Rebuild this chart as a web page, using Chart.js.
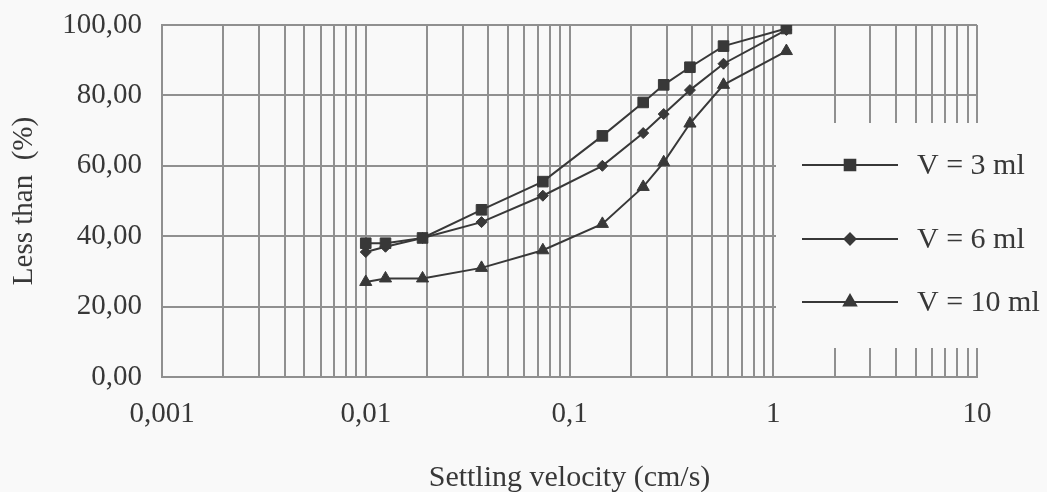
<!DOCTYPE html>
<html>
<head>
<meta charset="utf-8">
<script src="https://cdn.jsdelivr.net/npm/chart.js@4.4.1/dist/chart.umd.min.js"></script>
<style>
  html, body { margin: 0; padding: 0; background: #f9f9f9; }
  #wrap { width: 1047px; height: 492px; }
</style>
</head>
<body>
<div id="wrap"><canvas id="c" width="1047" height="492"></canvas></div>
<script>
// ---- data ----
const velocity = [0.01, 0.0125, 0.019, 0.037, 0.074, 0.145, 0.23, 0.29, 0.39, 0.57, 1.16];
const lessThanV3 = [38, 38, 39.5, 47.5, 55.5, 68.5, 78, 83, 88, 94, 99];
const lessThanV6 = [35.5, 37, 39.5, 44, 51.5, 60, 69.3, 74.7, 81.5, 89, 98.6];
const lessThanV10 = [27, 28, 28, 31, 36, 43.5, 54, 61, 72, 83, 92.6];
const seriesNames = ['V = 3 ml', 'V = 6 ml', 'V = 10 ml'];
const xMajorTicks = [0.001, 0.01, 0.1, 1, 10];
const xTickLabels = ['0,001', '0,01', '0,1', '1', '10'];
const yTickValues = [0, 20, 40, 60, 80, 100];
const yTickLabels = ['0,00', '20,00', '40,00', '60,00', '80,00', '100,00'];

const INK = '#383838';
const GRID = '#909090';
const BG = '#f9f9f9';
const FONT = '"Liberation Serif", "Times New Roman", serif';

function pairs(ys) { return velocity.map((x, i) => ({ x: x, y: ys[i] })); }

// all log grid positions (1..9 x each decade)
function logGrid() {
  const out = [];
  for (let d = 0; d < xMajorTicks.length; d++) {
    const base = xMajorTicks[d];
    out.push(base);
    if (d < xMajorTicks.length - 1) {
      for (let m = 2; m <= 9; m++) out.push(base * m);
    }
  }
  return out;
}

const styles = [
  { pointStyle: 'rect', pointRadius: 7.5 },
  { pointStyle: 'rectRot', pointRadius: 5.5 },
  { pointStyle: 'triangle', pointRadius: 7 }
];
const seriesData = [lessThanV3, lessThanV6, lessThanV10];

const datasets = seriesData.map((ys, i) => ({
  label: seriesNames[i],
  data: pairs(ys),
  showLine: true,
  borderColor: INK,
  backgroundColor: INK,
  borderWidth: 2,
  pointStyle: styles[i].pointStyle,
  pointRadius: styles[i].pointRadius,
  pointBorderWidth: 1,
  pointBackgroundColor: INK,
  pointBorderColor: INK,
  tension: 0
}));

const bgPlugin = {
  id: 'bg',
  beforeDraw(chart) {
    const ctx = chart.ctx;
    ctx.save();
    ctx.fillStyle = BG;
    ctx.fillRect(0, 0, chart.width, chart.height);
    ctx.restore();
  }
};

const legendBox = { left: 776, top: 123, right: 1047, bottom: 348 };
const legendRows = [165, 239, 302];
const legendPlugin = {
  id: 'boxLegend',
  afterDraw(chart) {
    const ctx = chart.ctx;
    ctx.save();
    ctx.fillStyle = BG;
    ctx.fillRect(legendBox.left, legendBox.top, legendBox.right - legendBox.left, legendBox.bottom - legendBox.top);
    chart.data.datasets.forEach((ds, i) => {
      const y = legendRows[i];
      ctx.strokeStyle = INK;
      ctx.lineWidth = 2;
      ctx.beginPath();
      ctx.moveTo(802, y);
      ctx.lineTo(898, y);
      ctx.stroke();
      ctx.fillStyle = INK;
      Chart.helpers.drawPoint(ctx, { pointStyle: ds.pointStyle, radius: ds.pointRadius, borderWidth: 1 }, 850, y);
      ctx.fill();
      ctx.fillStyle = INK;
      ctx.font = '30px ' + FONT;
      ctx.textAlign = 'left';
      ctx.textBaseline = 'middle';
      ctx.fillText(ds.label, 917, y + 1);
    });
    ctx.restore();
  }
};

new Chart(document.getElementById('c'), {
  type: 'scatter',
  data: { datasets: datasets },
  plugins: [bgPlugin, legendPlugin],
  options: {
    responsive: false,
    animation: false,
    devicePixelRatio: 1,
    layout: { padding: { left: 0, right: 70, top: 25, bottom: 0 } },
    plugins: { legend: { display: false }, tooltip: { enabled: false } },
    scales: {
      x: {
        type: 'logarithmic',
        min: xMajorTicks[0],
        max: xMajorTicks[xMajorTicks.length - 1],
        afterBuildTicks(scale) {
          scale.ticks = logGrid().map(v => ({ value: v, major: xMajorTicks.indexOf(v) >= 0 }));
        },
        afterFit(scale) { scale.height = 115; scale.paddingLeft = 0; scale.paddingRight = 0; },
        grid: { color: GRID, lineWidth: 2, drawTicks: false },
        border: { color: GRID, width: 2 },
        ticks: {
          autoSkip: false,
          maxRotation: 0,
          padding: 20,
          color: INK,
          font: { family: FONT, size: 29 },
          callback(value) {
            const k = xMajorTicks.indexOf(value);
            return k >= 0 ? xTickLabels[k] : '';
          }
        },
        title: {
          display: true,
          text: 'Settling velocity (cm/s)',
          color: INK,
          font: { family: FONT, size: 30, lineHeight: 0.93 },
          padding: { top: 0, bottom: 0 }
        }
      },
      y: {
        min: 0,
        max: 100,
        afterBuildTicks(scale) {
          scale.ticks = yTickValues.map(v => ({ value: v }));
        },
        afterFit(scale) { scale.width = 162; scale.paddingTop = 0; scale.paddingBottom = 0; },
        grid: { color: GRID, lineWidth: 2, drawTicks: false },
        border: { color: GRID, width: 2 },
        ticks: {
          padding: 20,
          color: INK,
          font: { family: FONT, size: 29 },
          callback(value) {
            const k = yTickValues.indexOf(value);
            return k >= 0 ? yTickLabels[k] : '';
          }
        },
        title: {
          display: true,
          text: 'Less than  (%)',
          color: INK,
          font: { family: FONT, size: 29, lineHeight: 1 },
          padding: { top: 10, bottom: 0 }
        }
      }
    }
  }
});
</script>
</body>
</html>
